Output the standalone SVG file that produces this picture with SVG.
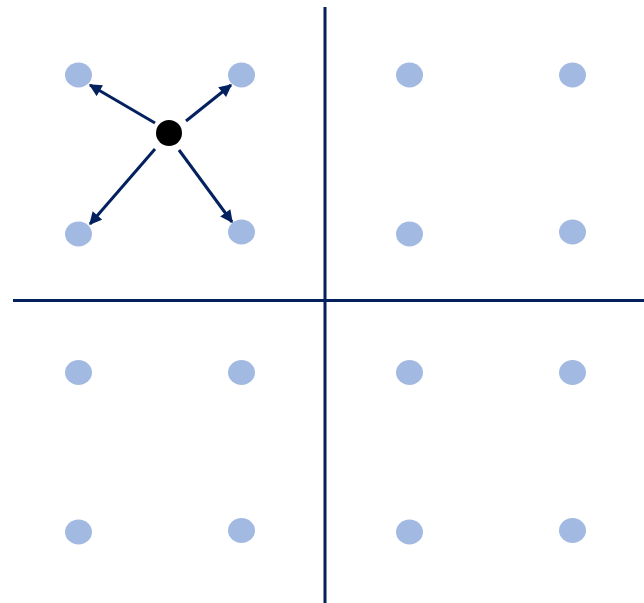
<svg xmlns="http://www.w3.org/2000/svg" width="644" height="603" viewBox="0 0 644 603">
<style>
.dot{fill:#a2b9e1}
.ln{stroke:#03215f;stroke-width:3;fill:none}
.ar{stroke:#03215f;stroke-width:3;fill:none;marker-end:url(#ah)}
</style>
<defs>
<marker id="ah" viewBox="0 0 10 10" refX="9" refY="5" markerWidth="4.5" markerHeight="4.2" orient="auto" markerUnits="strokeWidth">
<path d="M0,0 L10,5 L0,10 z" fill="#03215f"/>
</marker>
</defs>
<rect width="644" height="603" fill="#fff"/>
<g id="axes">
<line class="ln" x1="325" y1="7" x2="325" y2="603"/>
<line class="ln" x1="13" y1="300.5" x2="644" y2="300.5"/>
</g>
<g id="n1"><ellipse class="dot" cx="78.5" cy="75" rx="13.5" ry="12.5"/></g>
<g id="n2"><ellipse class="dot" cx="241.5" cy="75" rx="13.5" ry="12.5"/></g>
<g id="n3"><ellipse class="dot" cx="409.5" cy="75" rx="13.5" ry="12.5"/></g>
<g id="n4"><ellipse class="dot" cx="572.5" cy="75" rx="13.5" ry="12.5"/></g>
<g id="n5"><ellipse class="dot" cx="78.5" cy="234" rx="13.5" ry="12.5"/></g>
<g id="n6"><ellipse class="dot" cx="241.5" cy="232" rx="13.5" ry="12.5"/></g>
<g id="n7"><ellipse class="dot" cx="409.5" cy="234" rx="13.5" ry="12.5"/></g>
<g id="n8"><ellipse class="dot" cx="572.5" cy="232" rx="13.5" ry="12.5"/></g>
<g id="n9"><ellipse class="dot" cx="78.5" cy="372.5" rx="13.5" ry="12.5"/></g>
<g id="n10"><ellipse class="dot" cx="241.5" cy="372.5" rx="13.5" ry="12.5"/></g>
<g id="n11"><ellipse class="dot" cx="409.5" cy="372.5" rx="13.5" ry="12.5"/></g>
<g id="n12"><ellipse class="dot" cx="572.5" cy="372.5" rx="13.5" ry="12.5"/></g>
<g id="n13"><ellipse class="dot" cx="78.5" cy="532" rx="13.5" ry="12.5"/></g>
<g id="n14"><ellipse class="dot" cx="241.5" cy="530.5" rx="13.5" ry="12.5"/></g>
<g id="n15"><ellipse class="dot" cx="409.5" cy="532" rx="13.5" ry="12.5"/></g>
<g id="n16"><ellipse class="dot" cx="572.5" cy="530.5" rx="13.5" ry="12.5"/></g>
<g id="center"><circle cx="169" cy="133" r="13" fill="#000"/></g>
<g id="connectors">
<line class="ar" x1="155" y1="123" x2="90" y2="85"/>
<line class="ar" x1="186" y1="121" x2="231" y2="85"/>
<line class="ar" x1="155" y1="149" x2="90" y2="224"/>
<line class="ar" x1="179" y1="150" x2="232" y2="222"/>
</g>
</svg>
